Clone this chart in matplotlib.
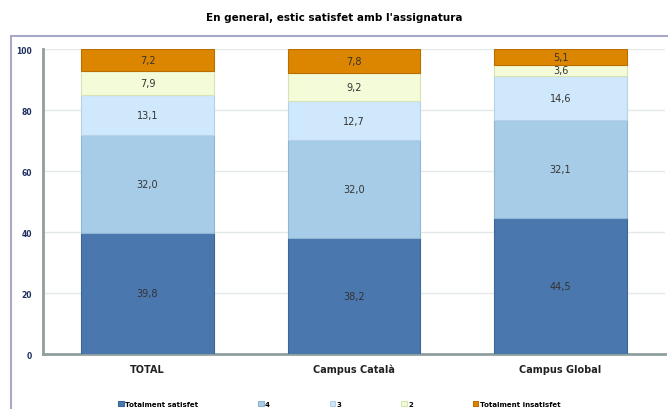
import numpy as np
import matplotlib
matplotlib.use("Agg")
import matplotlib.pyplot as plt
from matplotlib.patches import Rectangle

categories = ["TOTAL", "Campus Català", "Campus Global"]
series_names = ["Totalment satisfet", "4", "3", "2", "Totalment insatisfet"]
satisfet = [39.8, 38.2, 44.5]
val4 = [32.0, 32.0, 32.1]
val3 = [13.1, 12.7, 14.6]
val2 = [7.9, 9.2, 3.6]
insatisfet = [7.2, 7.8, 5.1]
series = [satisfet, val4, val3, val2, insatisfet]
colors = ["#4a78ae", "#a7cce8", "#d0e8fb", "#f3fbd8", "#dc8600"]
edge_colors = ["#3d6698", "#8fb6d4", "#b5d2ea", "#d6e3b4", "#b86e00"]

fig = plt.figure(figsize=(6.68, 4.10), dpi=100)
ax = fig.add_axes([0.0644, 0.1341, 0.9311, 0.7439])

# outer chart frame
fig.patches.append(Rectangle((11 / 668, -0.05), 1.0, 1 - 37 / 410 + 0.05,
                             transform=fig.transFigure, fill=False,
                             edgecolor="#a8a8c8", linewidth=1.5, zorder=0))

x = np.arange(len(categories))
width = 0.644
bottom = np.zeros(len(categories))
handles = []
for vals, name, c, ec in zip(series, series_names, colors, edge_colors):
    bars = ax.bar(x, vals, width, bottom=bottom, color=c, edgecolor=ec,
                  linewidth=0.8, label=name, zorder=3)
    handles.append(bars)
    for xi, b, v in zip(x, bottom, vals):
        ax.text(xi, b + v / 2, f"{v:.1f}".replace(".", ","), ha="center",
                va="center", fontsize=7, color="#333333", zorder=4)
    bottom += np.array(vals)

ax.set_xlim(-0.506, 2.506)
ax.set_ylim(0, 100)
ax.set_yticks(range(0, 101, 20))
ax.set_yticklabels([str(t) for t in range(0, 101, 20)], fontsize=5.5,
                   fontweight="bold", color="#1f2f5f")
ax.set_xticks(x)
ax.set_xticklabels(categories, fontsize=7, fontweight="bold", color="#222222")
ax.tick_params(axis="both", length=0, pad=7)
ax.tick_params(axis="y", pad=8)
ax.yaxis.grid(True, color="#e3e8e8", linewidth=1.0, zorder=0)
for s in ["top", "right"]:
    ax.spines[s].set_visible(False)
ax.spines["left"].set_color("#8f9f9f")
ax.spines["left"].set_linewidth(2.0)
ax.spines["bottom"].set_color("#8f9f9f")
ax.spines["bottom"].set_linewidth(2.0)

fig.text(0.5, 1 - 18 / 410, "En general, estic satisfet amb l'assignatura",
         ha="center", va="center", fontsize=7.5, fontweight="bold")

fig.legend(handles=handles, loc="center", bbox_to_anchor=(0.508, 1 - 405 / 410),
           ncol=5, prop={"size": 5, "weight": "bold"}, frameon=False,
           handlelength=0.8, handleheight=0.8, handletextpad=0.2,
           columnspacing=8.6, borderpad=0)

fig.savefig("out.png", dpi=100)
